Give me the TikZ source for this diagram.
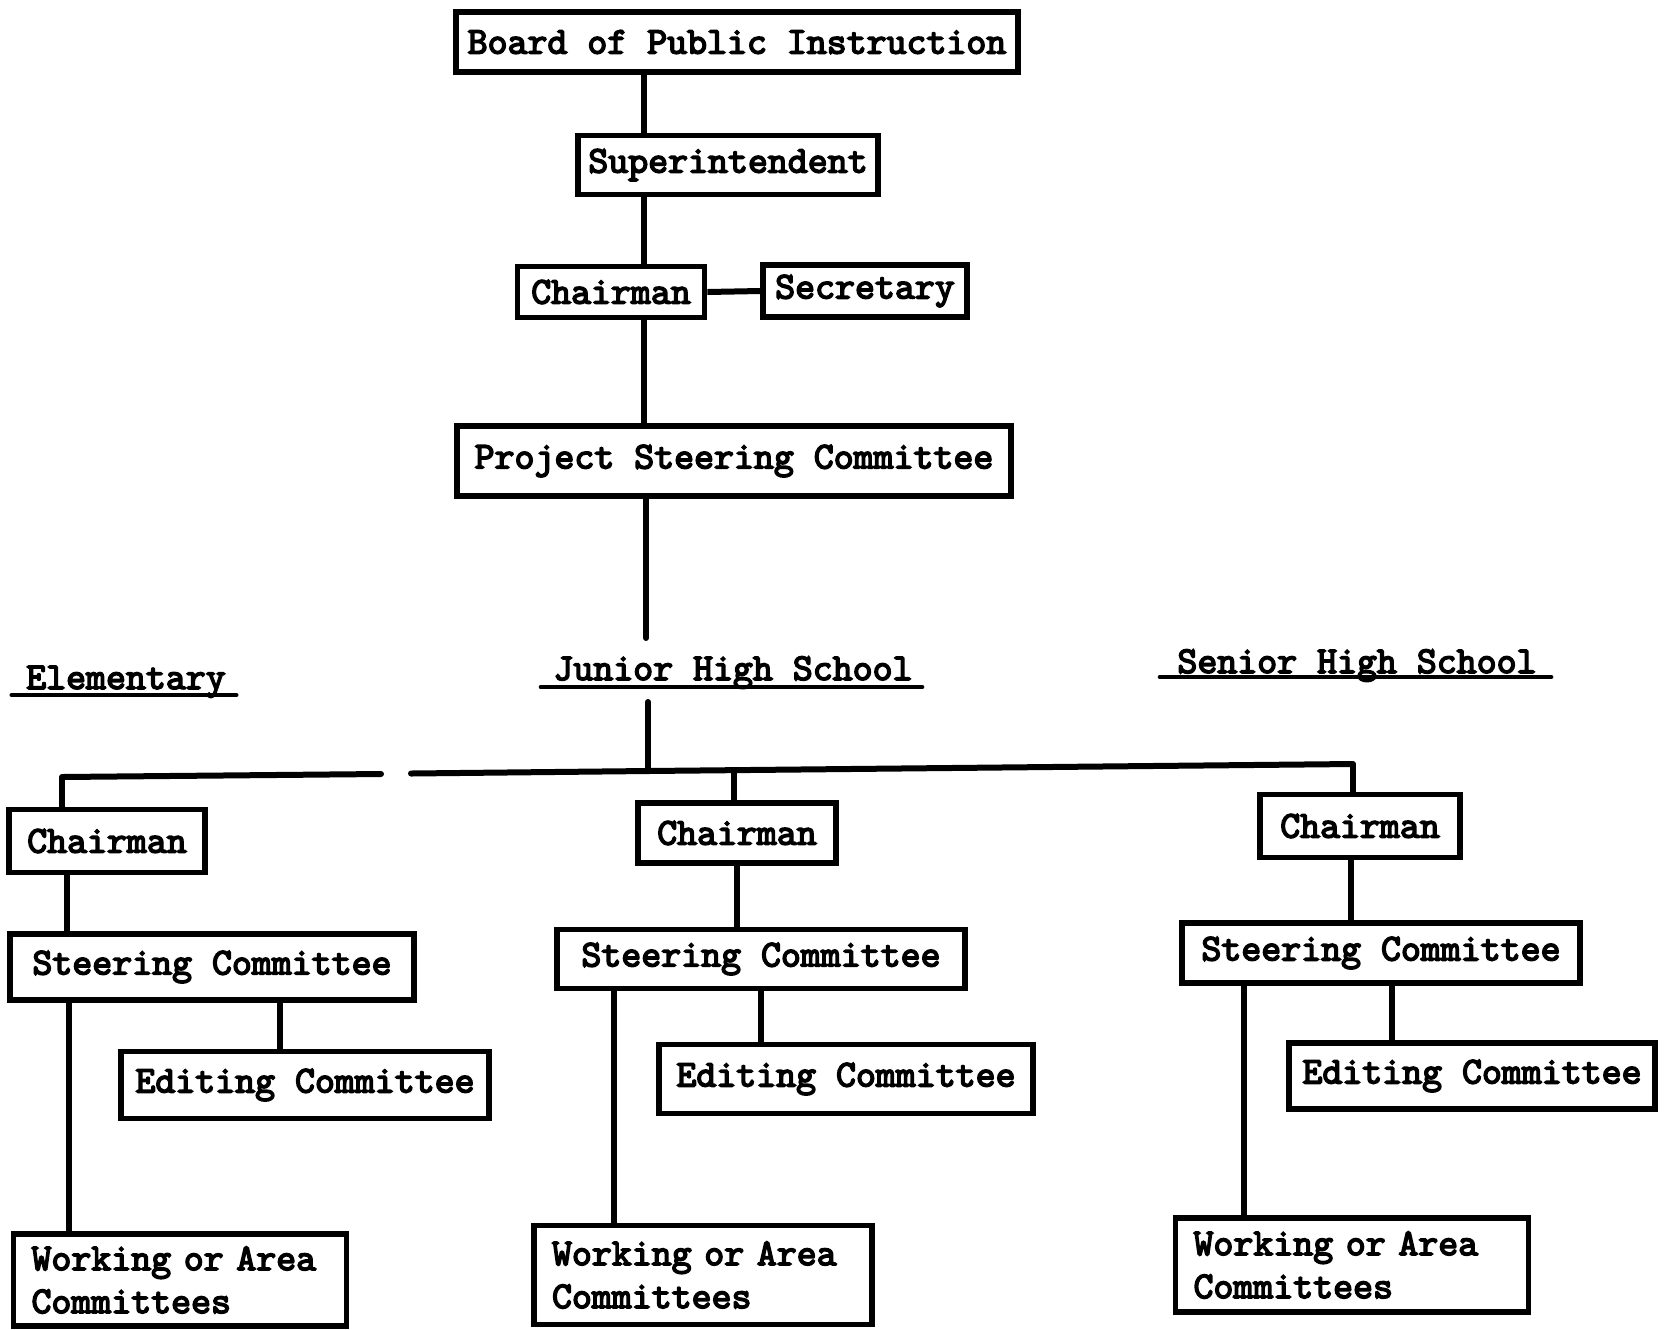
\documentclass[tikz,border=0pt]{standalone}
\usepackage{fontspec}
\newfontfamily\typewr{lmmono10-regular.otf}[FakeBold=4]
\usetikzlibrary{calc}

\begin{document}
\begin{tikzpicture}[x=0.5pt,y=-0.5pt,
  typed/.style={font=\typewr\fontsize{19}{21.5}\selectfont},
  box/.style={typed, draw, line width=2.8pt, inner sep=0pt, fill=white},
  bx/.style 2 args={box, minimum width=#1*0.5pt, minimum height=#2*0.5pt},
  wbox/.style 2 args={box, minimum width=#1*0.5pt, minimum height=#2*0.5pt,
    text width=(#1-36)*0.5pt, align=left},
  link/.style={line width=3pt},
  freeend/.style={line width=3pt, line cap=round},
  lbl/.style={typed, inner sep=0pt, anchor=base},
  uline/.style={line width=2.4pt, line cap=round}
]
\useasboundingbox (0,0) rectangle (1675,1329);

% ---- top of the chain ----
\node[bx={562}{60}] (board) at (737,42) {Board of Public Instruction};
\node[bx={300}{59}] (supt) at (728,165) {Superintendent};
\node[bx={187}{51}] (chair) at (611,292) {Chairman};
\node[bx={204}{52}] (sec) at (865,291) {Secretary};
\node[bx={554}{70}] (psc) at (734,461) {Project Steering Committee};

% ---- level headings ----
\node[lbl] (elem) at (126,689) {Elementary};
\node[lbl] (junior) at (733,680) {Junior High School};
\node[lbl] (senior) at (1357,673) {Senior High School};

% ---- Elementary column ----
\node[bx={196}{63}] (chairE) at (107,841) {Chairman};
\node[bx={404}{66}] (steerE) at (212,967) {Steering Committee};
\node[bx={368}{67}] (editE) at (305,1085) {Editing Committee};
\node[wbox={333}{92}] (workE) at (180,1280) {Working or Area\\Committees};

% ---- Junior High column ----
\node[bx={198}{60}] (chairJ) at (737,833) {Chairman};
\node[bx={408}{59}] (steerJ) at (761,959) {Steering Committee};
\node[bx={374}{69}] (editJ) at (846,1079) {Editing Committee};
\node[wbox={338}{99}] (workJ) at (703,1275) {Working or Area\\Committees};

% ---- Senior High column ----
\node[bx={200}{63}] (chairS) at (1360,826) {Chairman};
\node[bx={398}{60}] (steerS) at (1381,953) {Steering Committee};
\node[bx={366}{66}] (editS) at (1472,1076) {Editing Committee};
\node[wbox={353}{94}] (workS) at (1352,1265) {Working or Area\\Committees};

% ---- column positions of the vertical links ----
\coordinate (trunk) at (644,0);
\coordinate (cE) at (62,0);   \coordinate (sE) at (67,0);
\coordinate (eE) at (280,0);  \coordinate (wE) at (69,0);
\coordinate (cJ) at (734,0);  \coordinate (sJ) at (737,0);
\coordinate (eJ) at (761,0);  \coordinate (wJ) at (614,0);
\coordinate (cS) at (1353,0); \coordinate (sS) at (1351,0);
\coordinate (eS) at (1392,0); \coordinate (wS) at (1244,0);

% ---- distribution bar ----
\coordinate (busL) at (62,777);
\coordinate (gapL) at (381,774);
\coordinate (gapR) at (411,773.5);
\coordinate (busJ) at (648,771);
\coordinate (busM) at (734,770);
\coordinate (busR) at (1353,764);
\coordinate (trunkEnd) at (646,638);
\coordinate (jrStart) at (648,702);

% ---- chain links ----
\draw[link] (board.south -| trunk) -- (supt.north -| trunk);
\draw[link] (supt.south -| trunk) -- (chair.north -| trunk);
\draw[link] (chair.east) -- (sec.west);
\draw[link] (chair.south -| trunk) -- (psc.north -| trunk);
\draw[freeend] (psc.south -| trunkEnd) -- (trunkEnd);
\draw[freeend] (jrStart) -- (busJ);

% ---- bar (with its break) ----
\draw[freeend, line join=round] (busL) -- (gapL);
\draw[freeend, line join=round] (gapR) -- (busJ) -- (busR);

% ---- bar to the chairmen ----
\draw[link] (busL) -- (chairE.north -| cE);
\draw[link] (busM) -- (chairJ.north -| cJ);
\draw[link] (busR) -- (chairS.north -| cS);

% ---- column links ----
\draw[link] (chairE.south -| sE) -- (steerE.north -| sE);
\draw[link] (steerE.south -| eE) -- (editE.north -| eE);
\draw[link] (steerE.south -| wE) -- (workE.north -| wE);

\draw[link] (chairJ.south -| sJ) -- (steerJ.north -| sJ);
\draw[link] (steerJ.south -| eJ) -- (editJ.north -| eJ);
\draw[link] (steerJ.south -| wJ) -- (workJ.north -| wJ);

\draw[link] (chairS.south -| sS) -- (steerS.north -| sS);
\draw[link] (steerS.south -| eS) -- (editS.north -| eS);
\draw[link] (steerS.south -| wS) -- (workS.north -| wS);

% ---- heading underlines ----
\draw[uline] ($(elem.base west)+(-14,6)$) -- ($(elem.base east)+(10,6)$);
\draw[uline] ($(junior.base west)+(-12,7)$) -- ($(junior.base east)+(9,7)$);
\draw[uline] ($(senior.base west)+(-17,4)$) -- ($(senior.base east)+(14,4)$);
\end{tikzpicture}
\end{document}
